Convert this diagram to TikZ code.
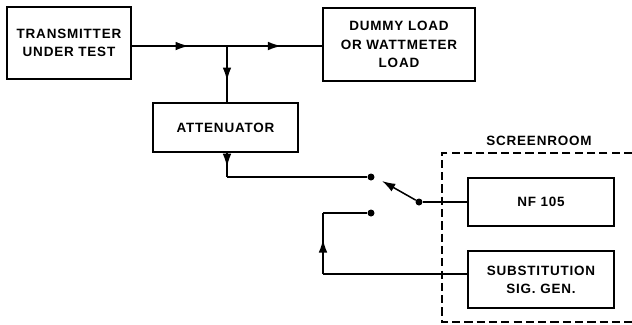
\documentclass[tikz,border=0pt]{standalone}
\usepackage{fontspec}
\setmainfont{Liberation Sans}
\usepackage{tikz}
\usetikzlibrary{positioning}
\usetikzlibrary{arrows.meta}
\usetikzlibrary{decorations.markings}

\newcommand{\lbl}{\fontsize{11.5}{15.5}\selectfont\bfseries\addfontfeature{LetterSpace=6}}

\tikzset{
	blk/.style={draw, line width=1.3pt, align=center, inner sep=0pt, font=\lbl},
	wire/.style={line width=1.3pt},
	tip/.style={-{Latex[length=4mm,width=2.6mm]}},
	midarrow/.style={postaction={decorate}, decoration={markings,
		mark=at position #1 with {\arrow{Latex[length=4mm,width=2.6mm]}}}},
	contact/.style={circle, fill, inner sep=0pt, minimum size=2.1mm},
}

\begin{document}
\begin{tikzpicture}[x=0.03cm, y=-0.03cm]

		\useasboundingbox (0,0) rectangle (632,324);

		% Blocks
		\node[blk, minimum width=3.72cm, minimum height=2.16cm] (trans) at (69,43)
			{TRANSMITTER\\UNDER TEST};
		\node[blk, minimum width=4.56cm, minimum height=2.19cm] (dummy) at (399,44.5)
			{DUMMY LOAD\\OR WATTMETER\\LOAD};
		\node[blk, minimum width=4.35cm, minimum height=1.47cm] (atten) at (225.5,127.5)
			{ATTENUATOR};
		\node[blk, minimum width=4.38cm, minimum height=1.44cm] (nf) at (541,202)
			{NF 105};
		\node[blk, minimum width=4.38cm, minimum height=1.71cm] (subst) at (541,279.5)
			{SUBSTITUTION\\SIG. GEN.};

		% Junction and switch points
		\coordinate (J) at (227,46);
		\coordinate (Abot) at (227,152);
		\coordinate (Acorner) at (227,177);
		\node[contact] (C1) at (371,177) {};
		\node[contact] (C2) at (371,213) {};
		\node[contact] (P) at (419,202) {};
		\coordinate (arm) at (382,181);
		\coordinate (Bcorner) at (323,213);
		\coordinate (Bbot) at (323,274);

		% Connections
		\draw[wire, midarrow=0.6] (trans.east |- J) -- (J);
		\draw[wire, midarrow=0.57] (J) -- (dummy.west |- J);
		\draw[wire, midarrow=0.62] (J) -- (atten.north -| J);
		\draw[wire, midarrow=0.6] (Abot) -- (Acorner);
		\draw[wire] (Acorner) -- (C1);
		\draw[wire, tip] (P) -- (arm);
		\draw[wire] (P) -- (nf.west |- P);
		\draw[wire] (subst.west |- Bbot) -- (Bbot);
		\draw[wire, midarrow=0.57] (Bbot) -- (Bcorner);
		\draw[wire] (Bcorner) -- (C2);

		% Screen room
		\draw[line width=1.1pt, dash pattern=on 7pt off 3.5pt]
			(632,153) -- (442,153) -- (442,322) -- (632,322);
		\node[font=\lbl] (screen) at (539,141) {SCREENROOM};

	\end{tikzpicture}
\end{document}
